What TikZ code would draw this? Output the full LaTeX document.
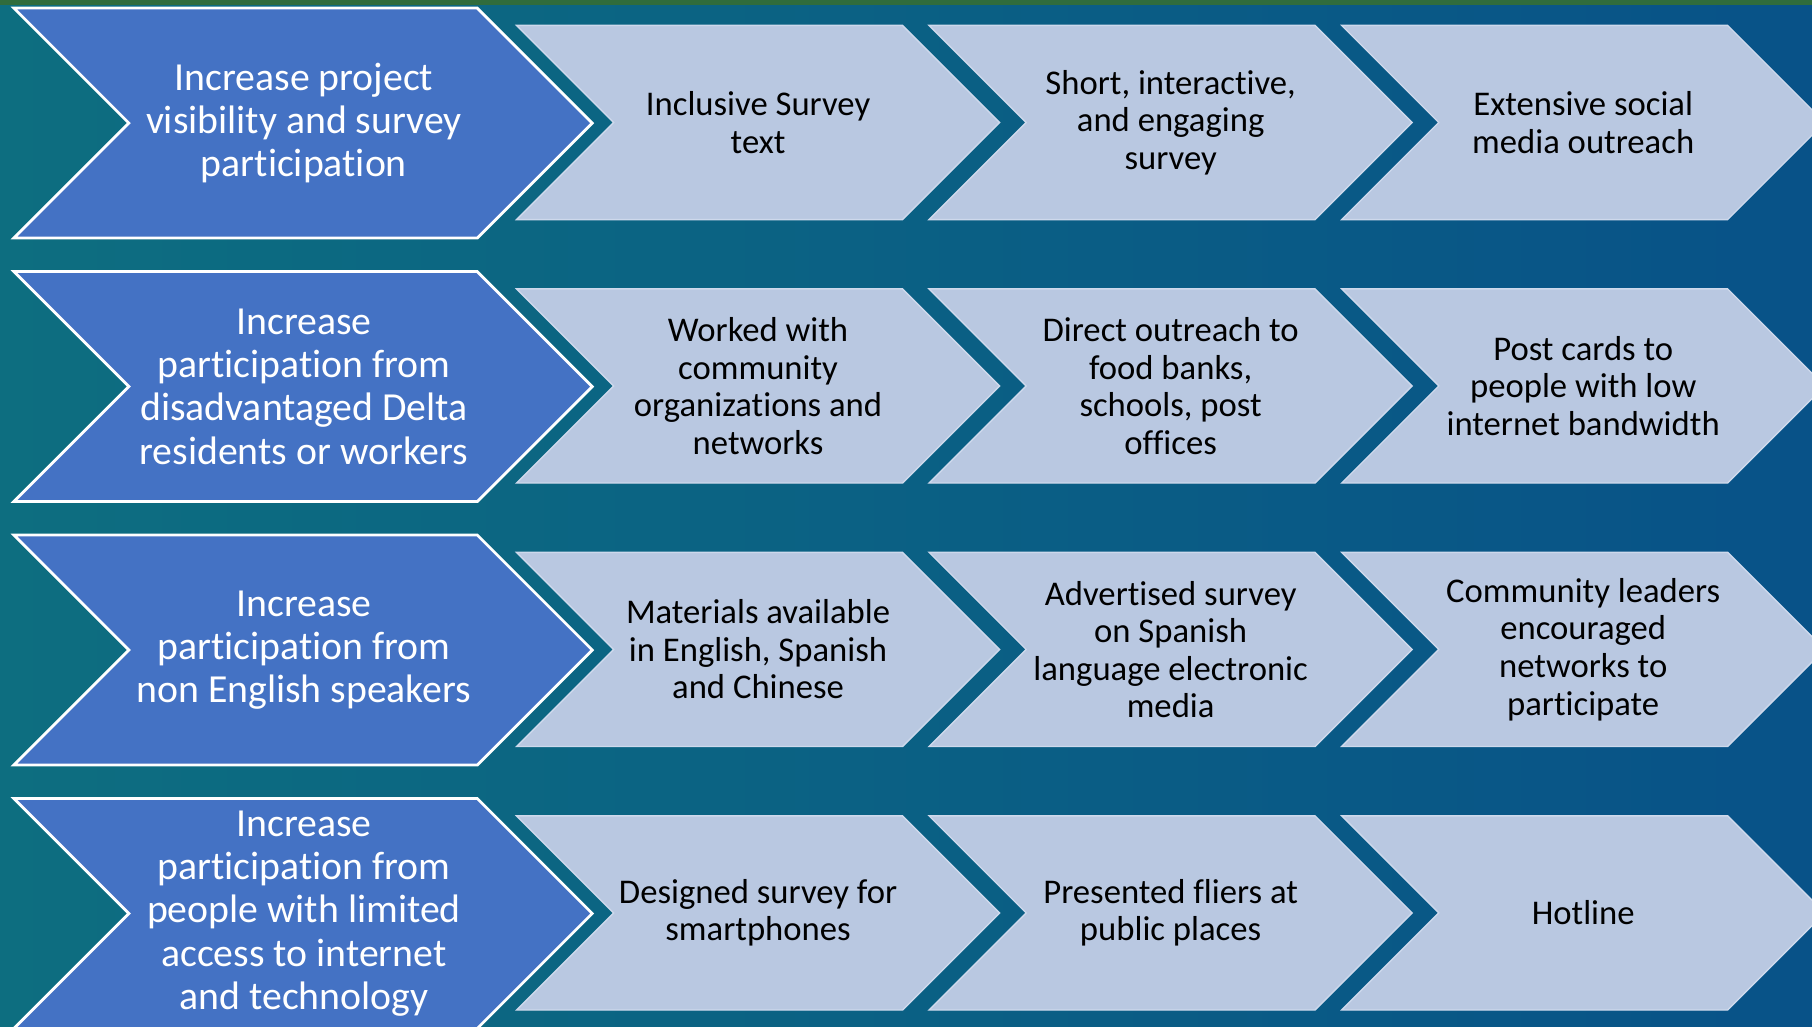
\documentclass[tikz,border=0pt]{standalone}
\usepackage{fontspec}
\setmainfont{Carlito}[Ligatures=NoCommon]
\usetikzlibrary{positioning}
\definecolor{bgteal}{RGB}{13,110,128}
\definecolor{bgblue}{RGB}{8,82,136}
\definecolor{topgreen}{RGB}{48,108,60}
\definecolor{goalblue}{RGB}{68,114,196}
\definecolor{steplight}{RGB}{185,200,225}
\definecolor{stepedge}{RGB}{206,217,236}
\tikzset{
    %Define style for the goal chevrons
    goal/.style={
           fill=goalblue,
           draw=white, line width=1.2pt,
           line join=miter},
    %Define style for the step chevrons
    stepchev/.style={
           fill=steplight,
           draw=stepedge, line width=0.6pt},
    % Define text styles
    goaltext/.style={
           text=white,
           align=center,
           inner sep=0pt,
           font=\fontsize{17.2}{18.75}\selectfont},
    steptext/.style={
           text=black,
           align=center,
           inner sep=0pt,
           font=\fontsize{15}{16.25}\selectfont}
}
% chevron: left x, top y, flat width, height, style
\newcommand{\chevron}[5]{%
  \path[#5] (#1,#2) -- ++(#3,0) -- ++(#4/2,#4/2) -- ++(-#4/2,#4/2)
    -- ++(-#3,0) -- ++(#4/2,-#4/2) -- cycle;}

\begin{document}
\begin{tikzpicture}[x=0.5pt,y=-0.5pt]
\useasboundingbox (0,0) rectangle (1568,888);
\clip (0,0) rectangle (1568,888);
 %background
\fill[left color=bgteal,right color=bgblue] (0,0) rectangle (1568,888);
\fill[topgreen] (0,0) rectangle (1568,4);
 %chevrons
\foreach \y in {7,235,463,691}{
  \chevron{12}{\y}{401}{199}{goal}
  \foreach \x in {447,804,1161}{
    \chevron{\x}{\y+15}{334}{168}{stepchev}
  }
}
 %row 1
\node[goaltext](g1) at (263,106.5){Increase project\\visibility and survey\\participation};
\node[steptext](s11) at (656,106){Inclusive Survey\\text};
\node[steptext](s12) at (1013,106){Short, interactive,\\and engaging\\survey};
\node[steptext](s13) at (1370,106){Extensive social\\media outreach};
 %row 2
\node[goaltext](g2) at (263,334.5){Increase\\participation from\\disadvantaged Delta\\residents or workers};
\node[steptext](s21) at (656,334){Worked with\\community\\organizations and\\networks};
\node[steptext](s22) at (1013,334){Direct outreach to\\food banks,\\schools, post\\offices};
\node[steptext](s23) at (1370,334){Post cards to\\people with low\\internet bandwidth};
 %row 3
\node[goaltext](g3) at (263,562.5){Increase\\participation from\\non English speakers};
\node[steptext](s31) at (656,562){Materials available\\in English, Spanish\\and Chinese};
\node[steptext](s32) at (1013,562){Advertised survey\\on Spanish\\language electronic\\media};
\node[steptext](s33) at (1370,562){Community leaders\\encouraged\\networks to\\participate};
 %row 4
\node[goaltext](g4) at (263,790.5){Increase\\participation from\\people with limited\\access to internet\\and technology};
\node[steptext](s41) at (656,790){Designed survey for\\smartphones};
\node[steptext](s42) at (1013,790){Presented fliers at\\public places};
\node[steptext](s43) at (1370,790){Hotline};
\end{tikzpicture}
\end{document}
